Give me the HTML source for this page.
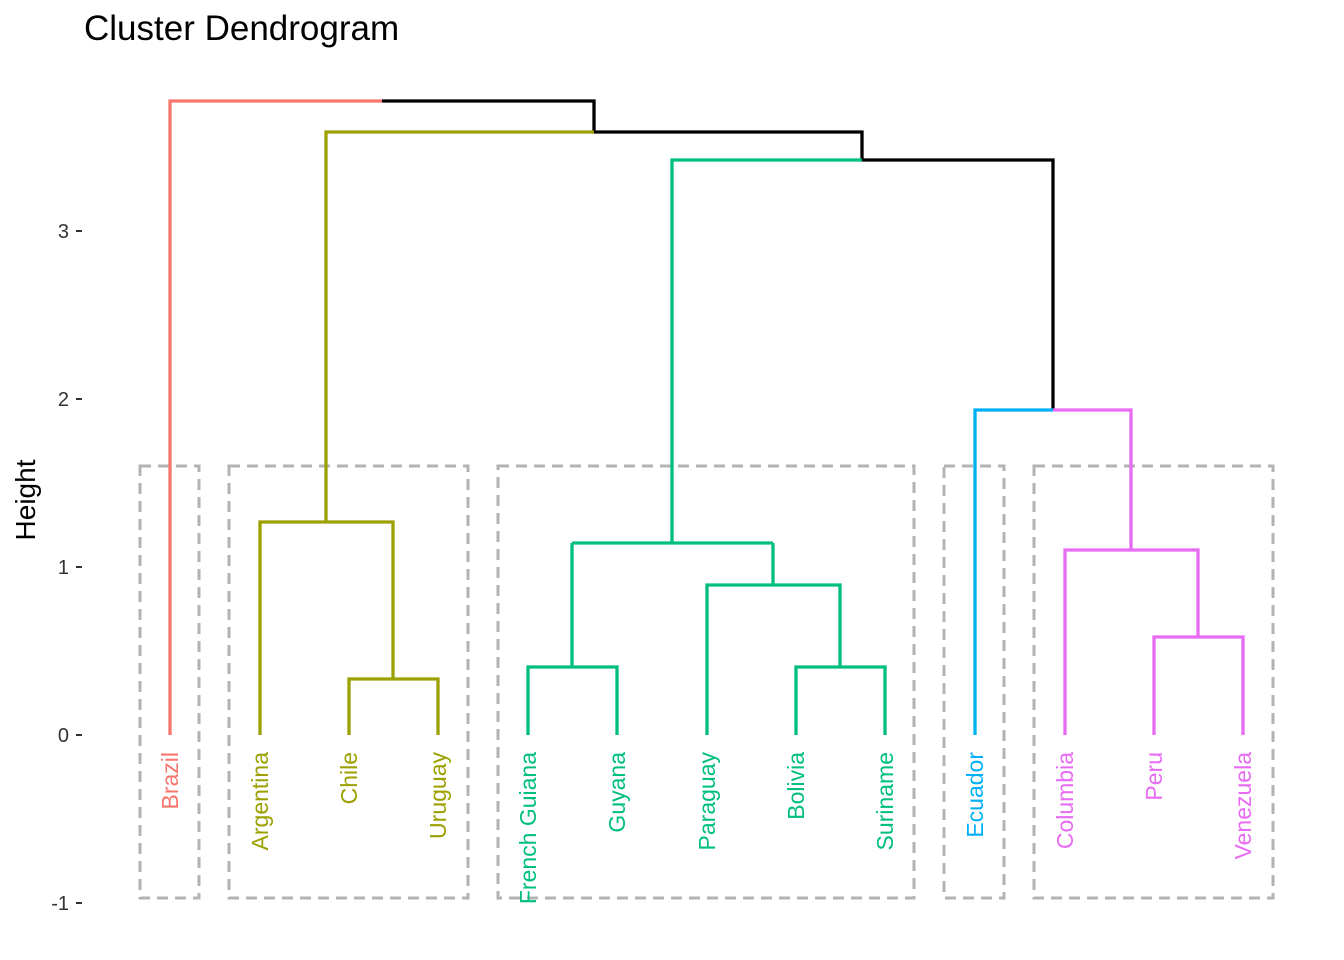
<!DOCTYPE html>
<html><head><meta charset="utf-8"><style>html,body{margin:0;padding:0;background:#fff}svg{display:block}</style></head><body>
<svg width="1344" height="960" xmlns="http://www.w3.org/2000/svg" font-family="Liberation Sans, Arial, sans-serif">
<text x="84" y="40" font-size="35" fill="#000">Cluster Dendrogram</text>
<text transform="translate(35,500) rotate(-90)" font-size="28" text-anchor="middle" fill="#000">Height</text>
<g font-size="20" fill="#333" text-anchor="end">
<text x="69" y="238">3</text><text x="69" y="406">2</text><text x="69" y="574">1</text><text x="69" y="742">0</text><text x="69" y="910">-1</text>
</g>
<g stroke="#333" stroke-width="2">
<line x1="76" x2="82" y1="231" y2="231"/><line x1="76" x2="82" y1="399" y2="399"/><line x1="76" x2="82" y1="567" y2="567"/><line x1="76" x2="82" y1="735" y2="735"/><line x1="76" x2="82" y1="903" y2="903"/>
</g>
<g fill="none" stroke="#b3b3b3" stroke-width="3" stroke-dasharray="11,7">
<rect x="140" y="466" width="59" height="432"/>
<rect x="229" y="466" width="239" height="432"/>
<rect x="498" y="466" width="416" height="432"/>
<rect x="944" y="466" width="60" height="432"/>
<rect x="1034" y="466" width="239" height="432"/>
</g>
<g fill="none" stroke-width="3.3">
<path stroke="#F8766D" d="M170 735V101H382"/>
<path stroke="#000" d="M382 101H594V132H862V160H1053V410M862 132V160"/>
<path stroke="#9CA000" d="M594 132H326V522M260 735V522H393V679M349 735V679H438V735"/>
<path stroke="#00BF7D" d="M862 160H672V543M572 543H773M572 543V667M528 735V667H617V735M773 543V585M707 735V585H840V667M796 735V667H885V735"/>
<path stroke="#00B0F6" d="M1053 410H975V735"/>
<path stroke="#E76BF3" d="M1053 410H1131V550M1065 735V550H1198V637M1154 735V637H1243V735"/>
</g>
<g font-size="23" text-anchor="end">
<text transform="translate(178,752) rotate(-90)" fill="#F8766D">Brazil</text>
<text transform="translate(268,752) rotate(-90)" fill="#9CA000">Argentina</text>
<text transform="translate(357,752) rotate(-90)" fill="#9CA000">Chile</text>
<text transform="translate(446,752) rotate(-90)" fill="#9CA000">Uruguay</text>
<text transform="translate(536,752) rotate(-90)" fill="#00BF7D">French Guiana</text>
<text transform="translate(625,752) rotate(-90)" fill="#00BF7D">Guyana</text>
<text transform="translate(715,752) rotate(-90)" fill="#00BF7D">Paraguay</text>
<text transform="translate(804,752) rotate(-90)" fill="#00BF7D">Bolivia</text>
<text transform="translate(893,752) rotate(-90)" fill="#00BF7D">Suriname</text>
<text transform="translate(983,752) rotate(-90)" fill="#00B0F6">Ecuador</text>
<text transform="translate(1073,752) rotate(-90)" fill="#E76BF3">Columbia</text>
<text transform="translate(1162,752) rotate(-90)" fill="#E76BF3">Peru</text>
<text transform="translate(1251,752) rotate(-90)" fill="#E76BF3">Venezuela</text>
</g>
</svg>
</body></html>
